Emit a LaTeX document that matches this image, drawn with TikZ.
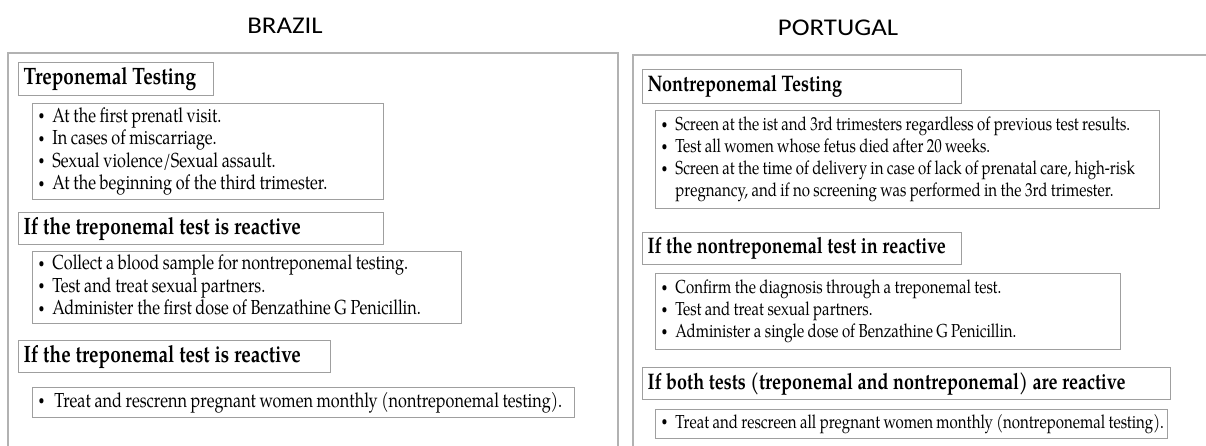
\documentclass[tikz,border=0pt]{standalone}
\usepackage{fontspec}
\setmainfont{texgyrepagella}[Extension=.otf, UprightFont=*-regular, BoldFont=*-bold, ItalicFont=*-italic, BoldItalicFont=*-bolditalic, FakeStretch=0.8]
\newfontfamily\headfont{Carlito}[FakeStretch=1.12]
\usepackage{tikz}

\newcommand{\bul}{\raisebox{2.5pt}{\fontsize{13}{13}\selectfont\textbullet}}
\newcommand{\tightsp}[1]{\spaceskip=#1em\relax}

\begin{document}
\begin{tikzpicture}[x=1pt,y=-1pt,
      country_lbl/.style={
         inner sep=0pt,
         font=\headfont\fontsize{24}{24}\selectfont},
      title_box/.style={
         draw=gray!75,
         line width=1.1pt,
         anchor=north west,
         inner xsep=5pt,
         inner ysep=0pt,
         align=left,
         font=\bfseries\fontsize{23.7}{25}\selectfont,
         execute at begin node=\tightsp{0.2}},
      title_box_pt/.style={
         title_box,
         font=\bfseries\fontsize{22.5}{24}\selectfont},
      item_box/.style={
         draw=gray!75,
         line width=1.1pt,
         anchor=north west,
         inner xsep=6pt,
         inner ysep=0pt,
         align=left,
         font=\fontsize{20.3}{22.5}\selectfont,
         execute at begin node=\tightsp{0.18}},
      item_box_pt/.style={
         item_box,
         font=\fontsize{18.8}{22}\selectfont},
      frame_line/.style={
         draw=gray!60,
         line width=2pt},
]
      \useasboundingbox (0,0) rectangle (1206,446);

      % country frames
      \draw[frame_line] (8,446) |- (618,53) -- (618,446);
      \draw[frame_line] (633,446) |- (1210,55);

      \node[country_lbl] (brazil) at (285,26) {BRAZIL};
      \node[country_lbl] (portugal) at (838,28) {PORTUGAL};

      %brazil
      \node[title_box,text width=185pt,minimum height=33pt] (bt1) at (18,62) {\mbox{Treponemal Testing}};
      \node[item_box,text width=339pt,minimum height=96pt] (bb1) at (32,103) {%
        \begin{tabular}{@{}l@{\hspace{8pt}}l@{}}
          \bul & At the first prenatl visit.\\
          \bul & In cases of miscarriage.\\
          \bul & Sexual violence/Sexual\ assault.\\
          \bul & At the beginning of the third trimester.
        \end{tabular}};

      \node[title_box,text width=355pt,minimum height=32pt] (bt2) at (18,212) {\mbox{If the treponemal test is reactive}};
      \node[item_box,text width=417pt,minimum height=72pt] (bb2) at (32,251) {%
        \begin{tabular}{@{}l@{\hspace{8pt}}l@{}}
          \bul & Collect a blood sample\ for nontreponemal testing.\\
          \bul & Test and treat sexual partners.\\
          \bul & Administer the first dose of Benzathine G Penicillin.
        \end{tabular}};

      \node[title_box,text width=302pt,minimum height=32pt] (bt3) at (18,340) {\mbox{If the treponemal test is reactive}};
      \node[item_box,text width=530pt,minimum height=30pt] (bb3) at (32,387) {%
        \begin{tabular}{@{}l@{\hspace{10pt}}l@{}}
          \bul & Treat and rescrenn pregnant women monthly (nontreponemal testing).
        \end{tabular}};

      %portugal
      \node[title_box_pt,text width=309pt,minimum height=34pt] (pt1) at (642,69) {\mbox{Nontreponemal Testing}};
      \node[item_box_pt,text width=492pt,minimum height=98pt] (pb1) at (655,110) {%
        \begin{tabular}{@{}l@{\hspace{8pt}}l@{}}
          \bul & Screen at the ist and 3rd trimesters regardless of previous test results.\\
          \bul & Test all women whose fetus died after 20 weeks.\\
          \bul & Screen at the time of delivery in case of lack of prenatal care, high-risk\\
               & pregnancy, and if no screening was performed in the 3rd trimester.
        \end{tabular}};

      \node[title_box_pt,text width=309pt,minimum height=32pt] (pt2) at (642,232) {\mbox{If the nontreponemal test in reactive}};
      \node[item_box_pt,text width=453pt,minimum height=76pt] (pb2) at (655,273) {%
        \begin{tabular}{@{}l@{\hspace{8pt}}l@{}}
          \bul & Confirm the diagnosis through a treponemal test.\\
          \bul & Test and treat sexual partners.\\
          \bul & Administer a single dose of Benzathine G Penicillin.
        \end{tabular}};

      \node[title_box_pt,text width=518pt,minimum height=32pt] (pt3) at (642,367) {\mbox{If both tests (treponemal and nontreponemal) are reactive}};
      \node[item_box_pt,text width=500pt,minimum height=29pt] (pb3) at (655,409) {%
        \begin{tabular}{@{}l@{\hspace{8pt}}l@{}}
          \bul & Treat and rescreen all pregnant women monthly (nontreponemal testing).
        \end{tabular}};

\end{tikzpicture}
\end{document}
